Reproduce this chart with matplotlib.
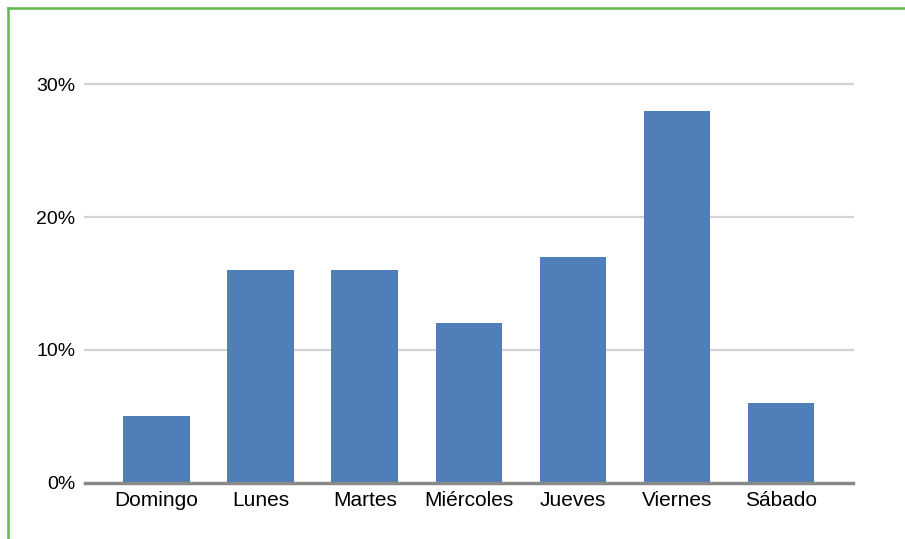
import matplotlib.pyplot as plt
from matplotlib.lines import Line2D

dias = ["Domingo", "Lunes", "Martes", "Miércoles", "Jueves", "Viernes", "Sábado"]
porcentajes = [5, 16, 16, 12, 17, 28, 6]
y_ticks = [0, 10, 20, 30]
y_labels = ["0%", "10%", "20%", "30%"]

plt.rcParams['font.family'] = ['Liberation Sans', 'DejaVu Sans']

fig = plt.figure(figsize=(9.05, 5.39), dpi=100)
ax = fig.add_axes([85 / 905, 1 - 482.5 / 539, (853 - 85) / 905, (482.5 - 84.3) / 539])

x = list(range(len(dias)))
ax.bar(x, porcentajes, width=0.64, color="#4f7eb9", zorder=3)

ax.set_xlim(-0.687, 6.69)
ax.set_ylim(0, 30)
ax.set_yticks(y_ticks)
ax.set_yticklabels(y_labels, fontsize=14)
ax.set_xticks(x)
ax.set_xticklabels(dias, fontsize=15)
ax.tick_params(axis="y", length=0, pad=7)
ax.tick_params(axis="x", length=0, pad=6)

for v in y_ticks[1:]:
    ax.axhline(v, color="#d3d3d3", lw=1.6, zorder=1, clip_on=False)
ax.axhline(0, color="#8a8a8a", lw=2.5, zorder=4, clip_on=False)

for s in ax.spines.values():
    s.set_visible(False)

# marco verde (solo izquierda y arriba)
verde = "#62b84f"
fig.add_artist(Line2D([8 / 905, 8 / 905], [0, 1 - 8 / 539], color=verde, lw=1.8, transform=fig.transFigure))
fig.add_artist(Line2D([8 / 905, 1], [1 - 8 / 539, 1 - 8 / 539], color=verde, lw=1.8, transform=fig.transFigure))

fig.savefig("out.png", dpi=100)
